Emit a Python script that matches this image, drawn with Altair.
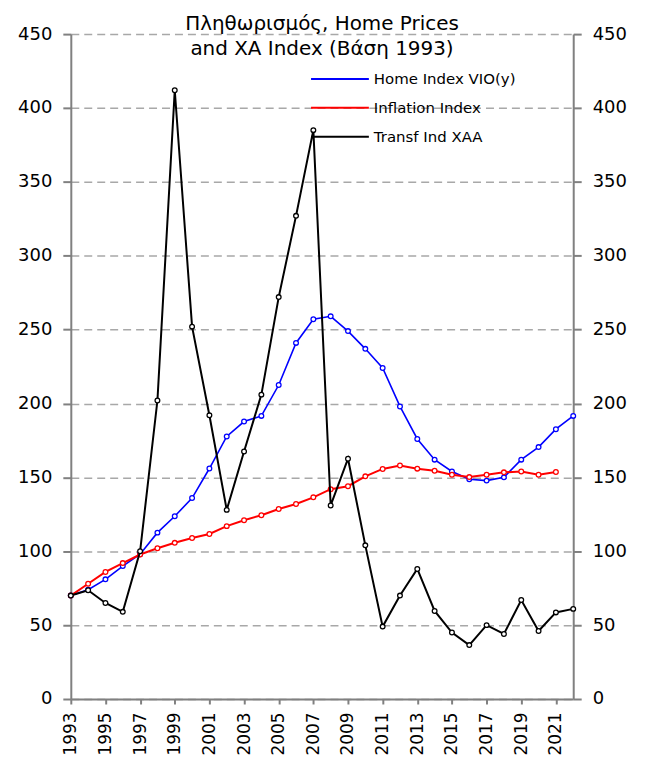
import altair as alt
import pandas as pd

years = list(range(1993, 2023))
home = [70, 74, 81, 90, 98, 112.6, 123.7, 136, 156, 177.7, 187.8, 191.6, 212.5, 241,
        257, 259, 249, 237, 224, 198, 176, 162, 154, 148.7, 147.8, 150, 162, 170.5,
        182.6, 191.6]
inflation = [70, 78, 86, 92, 97.8, 102, 105.7, 109, 111.7, 117, 121, 124.4, 128.6, 132,
             136.5, 142, 144, 150.7, 155.7, 158, 155.9, 154.5, 151.8, 150.2, 151.8, 153.4,
             154, 151.8, 153.6]
xaa = [70, 73.6, 65, 59, 100, 202, 412, 252, 192, 128, 167.5, 206, 272, 327, 385, 131,
       162.6, 104, 49, 70, 88, 59.6, 45, 36.5, 50, 44, 67, 46, 58.6, 61]

series_names = ["Home Index VIO(y)", "Inflation Index", "Transf Ind XAA"]
series_colors = ["#0000ff", "#ff0000", "#000000"]
x_ticks = list(range(1993, 2022, 2))
y_ticks = list(range(0, 451, 50))

rows = []
for name, vals in zip(series_names, [home, inflation, xaa]):
    for y, v in zip(years, vals):
        rows.append({"year": y, "value": v, "series": name})
df = pd.DataFrame(rows)

FONT = "DejaVu Sans"

xenc = alt.X("year:Q", scale=alt.Scale(domain=[1993, 2022], nice=False, zero=False),
             axis=alt.Axis(values=x_ticks, format="d", labelAngle=-90, title=None,
                           grid=False, domainColor="#808080", domainWidth=2,
                           tickColor="#808080", tickWidth=2, tickSize=5,
                           labelFontSize=17, labelFont=FONT, labelColor="black",
                           labelPadding=8))
yscale = alt.Scale(domain=[0, 450], nice=False)
left_axis = alt.Axis(values=y_ticks, title=None, grid=True, gridDash=[8, 5],
                     gridColor="#a8a8a8", gridWidth=1.5, domainColor="#808080",
                     domainWidth=2, tickColor="#808080", tickWidth=2, tickSize=8,
                     labelFontSize=18, labelFont=FONT, labelColor="black",
                     labelPadding=11, orient="left")
right_axis = alt.Axis(values=y_ticks, title=None, grid=False, domainColor="#808080",
                      domainWidth=2, tickColor="#808080", tickWidth=2, tickSize=8,
                      labelFontSize=18, labelFont=FONT, labelColor="black",
                      labelPadding=11, orient="right")

color_scale = alt.Scale(domain=series_names, range=series_colors)

layers = []
for i, name in enumerate(series_names):
    base = alt.Chart(df).transform_filter(alt.datum.series == name)
    if i == 0:
        leg = alt.Legend(orient="none", legendX=239, legendY=34, title=None,
                         symbolType="M-0.9,0H4.9", symbolSize=400, symbolStrokeWidth=2,
                         labelFont=FONT, labelFontSize=15, labelColor="black",
                         rowPadding=10, labelOffset=43)
        yaxis = left_axis
    else:
        leg = None
        yaxis = None
    line = base.mark_line(strokeWidth=2 if i != 0 else 1.6).encode(
        x=xenc,
        y=alt.Y("value:Q", scale=yscale, axis=yaxis),
        color=alt.Color("series:N", scale=color_scale, sort=series_names, legend=leg),
    )
    pts = base.mark_point(shape="circle", filled=False, fill="white", size=22,
                          strokeWidth=1.3, opacity=1).encode(
        x=xenc,
        y=alt.Y("value:Q", scale=yscale, axis=right_axis if i == 2 else None),
        color=alt.Color("series:N", scale=color_scale, sort=series_names, legend=None),
    )
    layers += [line, pts]

chart = alt.layer(*layers).resolve_axis(y="independent").properties(
    width=504, height=667,
    autosize=alt.AutoSizeParams(type="none"),
    padding={"left": 63, "top": 25, "right": 70, "bottom": 60},
    title=alt.TitleParams(["Πληθωρισμός, Home Prices", "and XA Index  (Βάση 1993)"],
                          font=FONT, fontSize=20, fontWeight="normal", color="black",
                          anchor="middle", offset=-50, baseline="alphabetic",
                          lineHeight=25),
).configure_view(stroke=None)

chart.save("out.html", embed_options={"renderer": "svg", "actions": False})
